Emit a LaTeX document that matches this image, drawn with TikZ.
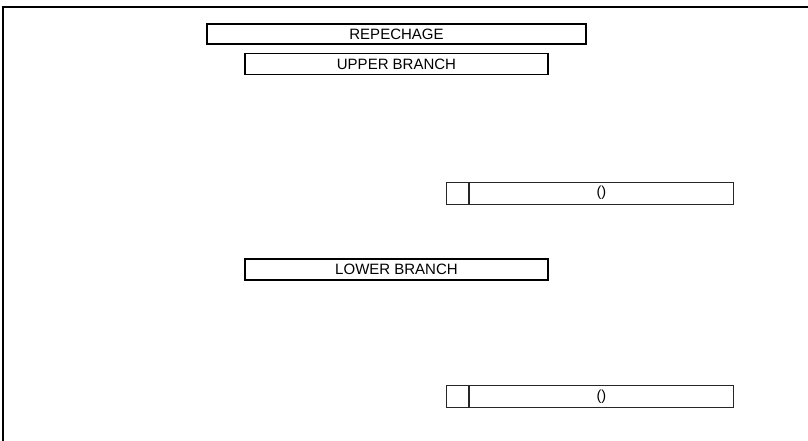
\documentclass[tikz,border=0pt]{standalone}
\usepackage{fontspec}
\setmainfont{Liberation Sans}
\begin{document}
\begin{tikzpicture}[x=1pt, y=-1pt,
  titlebox/.style={draw, line width=1.5pt, inner sep=0pt, minimum height=20pt, font=\fontsize{15}{17}\selectfont},
  seedcell/.style={draw=black!85, line width=0.9pt, inner sep=0pt, minimum width=22pt, minimum height=22pt},
  namecell/.style={draw=black!85, line width=0.9pt, inner sep=0pt, minimum width=264pt, minimum height=22pt, font=\fontsize{14.5}{16}\selectfont}]
  \useasboundingbox (0,0) rectangle (808,441);
  \draw[line width=1.2pt] (3,441) -- (3,7) -- (808,7);

  \node[titlebox, minimum width=379pt] (repechage) at (396.5,34) {REPECHAGE};
  \node[titlebox, minimum width=303pt, minimum height=21pt] (upper) at (396.5,64) {UPPER BRANCH};
  \node[titlebox, minimum width=303pt, minimum height=21pt] (lower) at (396.5,269.5) {LOWER BRANCH};

  % upper final
  \node[seedcell, anchor=west] (upseed) at (446,193) {};
  \node[namecell, anchor=west] (upname) at (upseed.east) {()};
  % lower final
  \node[seedcell, anchor=west] (lowseed) at (446,396.5) {};
  \node[namecell, anchor=west] (lowname) at (lowseed.east) {()};

\end{tikzpicture}
\end{document}
